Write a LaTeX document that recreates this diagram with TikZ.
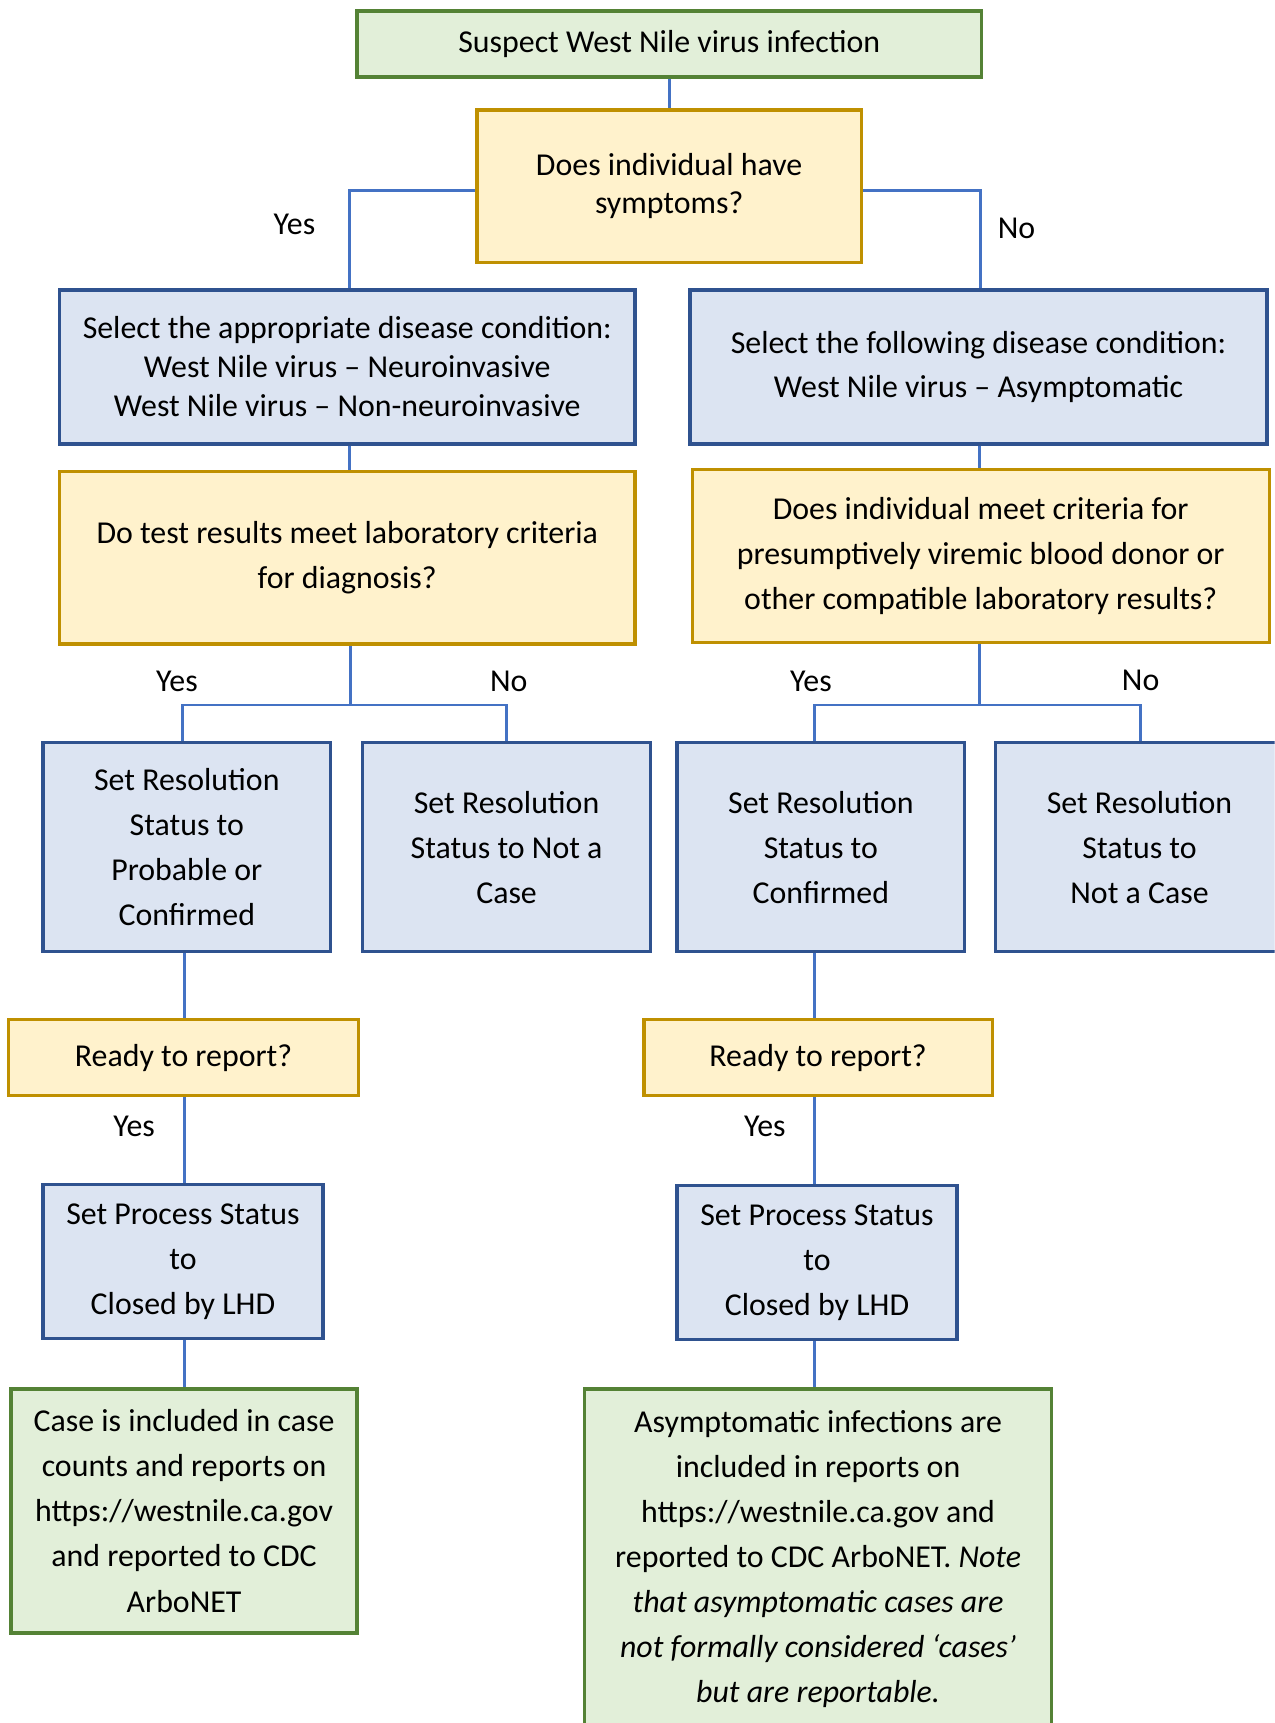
\documentclass[tikz,border=0pt]{standalone}
\usepackage{fontspec}
\setmainfont{Carlito}
\definecolor{boxgreen}{HTML}{E2EFD9}
\definecolor{edgegreen}{HTML}{548235}
\definecolor{boxyellow}{HTML}{FFF2CC}
\definecolor{edgeyellow}{HTML}{BF9000}
\definecolor{boxblue}{HTML}{DCE4F2}
\definecolor{edgeblue}{HTML}{2F528F}
\definecolor{linkblue}{HTML}{4472C4}

\begin{document}
\begin{tikzpicture}[x=0.5pt,y=-0.5pt,
        font=\fontsize{14.5}{20.5}\selectfont,
        flowbox/.style={draw, line width=1.5pt, align=center, inner sep=2pt},
        greenbox/.style={flowbox, draw=edgegreen, fill=boxgreen},
        yellowbox/.style={flowbox, draw=edgeyellow, fill=boxyellow},
        bluebox/.style={flowbox, draw=edgeblue, fill=boxblue},
        link/.style={draw=linkblue, line width=1.2pt}]
        \useasboundingbox (0,0) rectangle (1160,1568);
        \clip (0,0) rectangle (1160,1568);
        % top
        \node[greenbox, minimum width=284pt, minimum height=30pt] (suspect) at (609,40) {Suspect West Nile virus infection};
        \node[yellowbox, minimum width=175pt, minimum height=69.5pt, font=\fontsize{14.5}{17.5}\selectfont] (symptoms) at (609,169.5) {Does individual have\\symptoms?};
        % disease condition
        \node[bluebox, minimum width=262pt, minimum height=70pt, font=\fontsize{14.5}{17.75}\selectfont] (condsym) at (316,334) {Select the appropriate disease condition:\\West Nile virus -- Neuroinvasive\\West Nile virus -- Non-neuroinvasive};
        \node[bluebox, minimum width=262.5pt, minimum height=70pt, font=\fontsize{14.5}{20}\selectfont] (condasym) at (890.5,334) {Select the following disease condition:\\West Nile virus -- Asymptomatic};
        % lab criteria
        \node[yellowbox, minimum width=262pt, minimum height=78.5pt] (labsym) at (316,507.5) {Do test results meet laboratory criteria\\for diagnosis?};
        \node[yellowbox, minimum width=262.5pt, minimum height=79pt] (labasym) at (892.5,506) {Does individual meet criteria for\\presumptively viremic blood donor or\\other compatible laboratory results?};
        % resolution status
        \node[bluebox, minimum width=131pt, minimum height=95pt] (probable) at (170,771) {Set Resolution\\Status to\\Probable or\\Confirmed};
        \node[bluebox, minimum width=131pt, minimum height=95pt] (notcase) at (461,771) {Set Resolution\\Status to Not a\\Case};
        \node[bluebox, minimum width=131pt, minimum height=95pt] (confirmed) at (747,771) {Set Resolution\\Status to\\Confirmed};
        \node[bluebox, minimum width=131pt, minimum height=95pt] (notcaseasym) at (1037,771) {Set Resolution\\Status to\\Not a Case};
        % report
        \node[yellowbox, minimum width=159pt, minimum height=34.5pt] (readysym) at (167,962.5) {Ready to report?};
        \node[yellowbox, minimum width=158.5pt, minimum height=34.5pt] (readyasym) at (744.5,962.5) {Ready to report?};
        \node[bluebox, minimum width=127.5pt, minimum height=70pt] (closedsym) at (166.5,1148) {Set Process Status\\to\\Closed by LHD};
        \node[bluebox, minimum width=127.5pt, minimum height=70pt] (closedasym) at (743.5,1149) {Set Process Status\\to\\Closed by LHD};
        \node[greenbox, minimum width=157.5pt, minimum height=111pt] (reportsym) at (167.5,1375) {Case is included in case\\counts and reports on\\https://westnile.ca.gov\\and reported to CDC\\ArboNET};
        \node[greenbox, minimum width=212.5pt, minimum height=155pt] (reportasym) at (744.5,1419) {Asymptomatic infections are\\included in reports on\\https://westnile.ca.gov and\\reported to CDC ArboNET. \textit{Note}\\\textit{that asymptomatic cases are}\\\textit{not formally considered ‘cases’}\\\textit{but are reportable.}};
        % connectors
        \coordinate (leftcol) at (168,0);
        \coordinate (rightcol) at (741,0);
        \draw[link] (suspect) -- (symptoms);
        \draw[link] ([yshift=-2pt]symptoms.west) -| ([xshift=1pt]condsym.north);
        \draw[link] ([yshift=-2pt]symptoms.east) -| ([xshift=1pt]condasym.north);
        \draw[link] ([xshift=1pt]condsym.south) -- ([xshift=1pt]labsym.north);
        \draw[link] ([xshift=0.5pt]condasym.south) -- ([xshift=0.5pt]condasym.south |- labasym.north);
        \coordinate (labsymjoin) at ([xshift=1.5pt,yshift=-27pt]labsym.south);
        \coordinate (labasymjoin) at ([xshift=-0.5pt,yshift=-27.5pt]labasym.south);
        \draw[link] ([xshift=1.5pt]labsym.south) -- (labsymjoin);
        \draw[link] ([xshift=-2pt]probable.north) |- (labsymjoin) -| (notcase.north);
        \draw[link] ([xshift=-0.5pt]labasym.south) -- (labasymjoin);
        \draw[link] (confirmed.north -| rightcol) |- (labasymjoin) -| ([xshift=0.5pt]notcaseasym.north);
        \draw[link] (probable.south -| leftcol) -- (readysym.north -| leftcol);
        \draw[link] (readysym.south -| leftcol) -- (closedsym.north -| leftcol);
        \draw[link] (closedsym.south -| leftcol) -- (reportsym.north -| leftcol);
        \draw[link] (confirmed.south -| rightcol) -- (readyasym.north -| rightcol);
        \draw[link] (readyasym.south -| rightcol) -- (closedasym.north -| rightcol);
        \draw[link] (closedasym.south -| rightcol) -- (reportasym.north -| rightcol);
        % answers
        \node (yessym) at (268,204) {Yes};
        \node (noasym) at (925,208) {No};
        \node (yeslab) at (161,620) {Yes};
        \node (nolab) at (463,620) {No};
        \node (yeslabasym) at (738,620) {Yes};
        \node (nolabasym) at (1038,619) {No};
        \node (yesready) at (122,1025) {Yes};
        \node (yesreadyasym) at (696,1025) {Yes};
    \end{tikzpicture}
\end{document}
